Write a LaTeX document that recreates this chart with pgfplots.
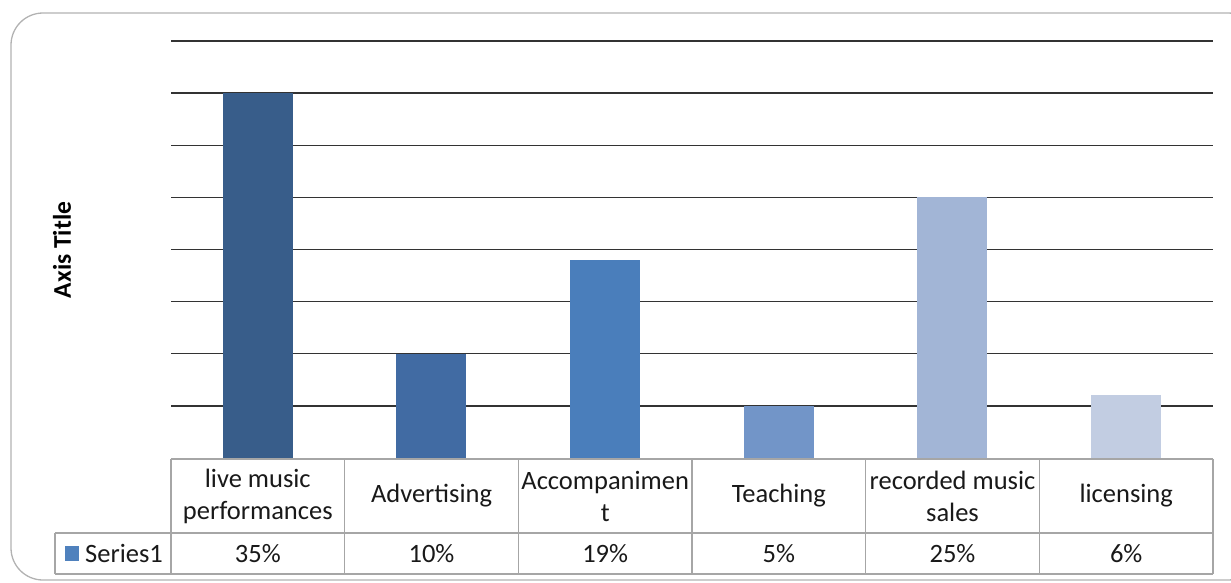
\documentclass[border=0pt]{standalone}
\usepackage{pgfplots}
\pgfplotsset{compat=1.18}
\usepackage{fontspec}
\setmainfont{Carlito}
\definecolor{c1}{HTML}{385D8A}
\definecolor{c2}{HTML}{416BA3}
\definecolor{c3}{HTML}{4A7EBB}
\definecolor{c4}{HTML}{7295C8}
\definecolor{c5}{HTML}{A2B5D6}
\definecolor{c6}{HTML}{C2CDE2}
\definecolor{acc}{HTML}{4F81BD}
\definecolor{tbl}{HTML}{A6A6A6}
\begin{document}
\begin{tikzpicture}[x=1pt,y=1pt]
\useasboundingbox (0,0) rectangle (1231,-582);
\draw[gray!60, line width=1.3pt, rounded corners=32pt] (11,-13) rectangle (1260,-580);
\begin{axis}[at={(171pt,-458pt)}, anchor=south west, scale only axis,
  width=1042pt, height=417pt, xmin=-0.5, xmax=5.5, ymin=0, ymax=40,
  ytick={5,10,...,40}, yticklabels={}, xtick=\empty,
  ymajorgrids, grid style={black!80, line width=1.4pt},
  axis line style={draw=none}, major tick length=0pt,
  ybar, bar width=70pt, bar shift=0pt, clip=false]
\addplot[fill=c1, draw=none] coordinates {(0,35)};
\addplot[fill=c2, draw=none] coordinates {(1,10)};
\addplot[fill=c3, draw=none] coordinates {(2,19)};
\addplot[fill=c4, draw=none] coordinates {(3,5)};
\addplot[fill=c5, draw=none] coordinates {(4,25)};
\addplot[fill=c6, draw=none] coordinates {(5,6)};
\end{axis}
% data table
\begin{scope}[tbl, line width=1.2pt]
\draw (171,-459) -- (1213,-459);
\draw (55,-533) -- (1213,-533);
\draw (55,-574) -- (1213,-574);
\draw (55,-533) -- (55,-574);
\foreach \xx in {171,344.67,518.33,692,865.67,1039.33,1213} {\draw (\xx,-459) -- (\xx,-574);}
\end{scope}
\begin{scope}[every node/.style={font=\fontsize{26.5}{32}\selectfont, align=center, text=black!90, inner sep=0pt}]
\node at (257.8,-496) {live music\\performances};
\node at (431.5,-496) {Advertising};
\node at (605.2,-496) {Accompanimen\\t};
\node at (778.8,-496) {Teaching};
\node at (952.5,-496) {recorded music\\sales};
\node at (1126.2,-496) {licensing};
\node at (257.8,-553.5) {35\%};
\node at (431.5,-553.5) {10\%};
\node at (605.2,-553.5) {19\%};
\node at (778.8,-553.5) {5\%};
\node at (952.5,-553.5) {25\%};
\node at (1126.2,-553.5) {6\%};
\node[anchor=west] at (85,-553.5) {Series1};
\end{scope}
\fill[acc] (65,-546) rectangle (79,-561);
\node[rotate=90, font=\fontsize{25.5}{30}\selectfont\bfseries] at (62,-250) {Axis Title};
\end{tikzpicture}
\end{document}
